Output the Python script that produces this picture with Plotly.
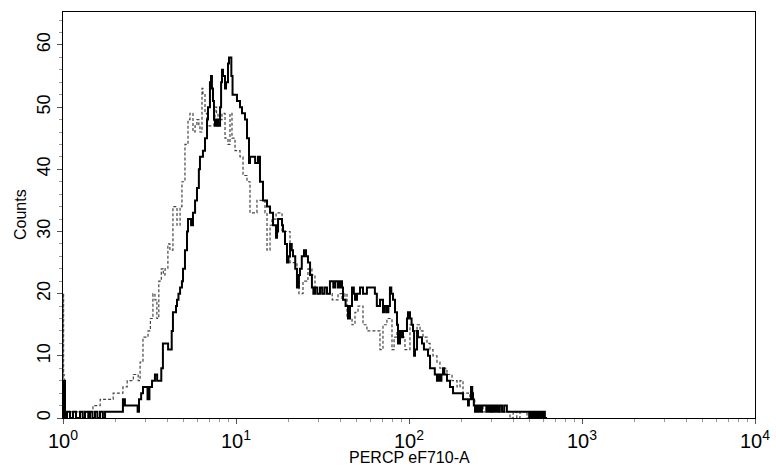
import plotly.graph_objects as go

# ---- data (x = PERCP eF710-A intensity, y = counts) ----
solid_x = [1.0, 1.002, 1.027, 1.055, 1.098, 1.142, 1.189, 1.254, 1.30, 1.34,
           1.40, 1.432, 1.48, 1.531, 1.58, 1.636, 1.70, 1.75, 2.22, 2.28,
           2.70, 2.75, 2.83, 2.90, 3.08, 3.16, 3.27, 3.40, 3.50, 3.70,
           3.78, 3.95, 4.05, 4.25, 4.32, 4.50, 4.56, 4.65, 4.75, 4.87,
           4.94, 5.07, 5.21, 5.28, 5.50, 5.64, 5.80, 5.95, 6.10, 6.19,
           6.44, 6.62, 6.80, 6.89, 7.07, 7.17, 7.26, 7.36, 7.46, 7.56,
           7.72, 7.87, 8.09, 8.20, 8.30, 8.41, 8.64, 8.76, 8.99, 9.11,
           9.40, 9.55, 9.87, 10.13, 10.55, 10.83, 11.27, 11.58, 11.89, 12.05,
           12.9, 13.4, 13.76, 14.32, 15.11, 15.73, 16.37, 17.04, 17.27, 17.5,
           18.45, 18.70, 19.2, 19.71, 20.1, 20.52, 21.0, 21.36, 22.0, 22.51,
           23.1, 23.43, 24.0, 24.72, 25.4, 26.06, 26.8, 27.47, 28.0, 28.61,
           29.5, 30.6, 31.5, 32.5, 33.58, 34.91, 36.5, 37.5, 38.86, 39.93,
           41.0, 41.55, 43.0, 44.41, 45.6, 46.84, 48.0, 48.74, 50.06, 52.1,
           54.21, 57.12, 63.5, 65.17, 67.97, 70.72, 72.5, 74.54, 76.0, 77.58,
           79.0, 80.84, 83.0, 85.22, 86.36, 88.69, 91.07, 92.29, 97.34, 98.64,
           101.3, 103.5, 105.5, 107.0, 108.3, 111.3, 112.7, 118.9, 122.0, 128.8,
           132.3, 141.0, 145.1, 148.0, 151.0, 154.0, 157.2, 160.0, 165.8, 172.6,
           179.7, 205.3, 219.4, 222.0, 228.3, 232.0, 234.4, 237.0, 240.7, 245.0,
           250.6, 255.0, 260.0, 264.0, 280.0, 285.0, 290.0, 294.0, 300.0, 305.0,
           310.0, 318.0, 326.0, 335.0, 345.0, 355.0, 368.0, 495.0, 505.0, 515.0,
           525.0, 535.0, 549.5, 560.0, 572.0, 583.0, 595.0, 610.0, 628.0]
solid_y = [0, 6, 0, 1, 0, 1, 0, 1, 0, 1,
           0, 1, 0, 1, 0, 1, 0, 1, 3, 2,
           1, 3, 4, 5, 3, 5, 6, 7, 6, 8,
           12, 12, 11, 14, 17, 18, 19, 20, 21, 22,
           24, 27, 30, 32, 31, 33, 35, 37, 40, 42,
           43, 45, 48, 50, 54, 55, 53, 51, 48, 47,
           48, 47, 50, 54, 56, 55, 53, 54, 57, 58,
           55, 52, 52, 51, 50, 49, 48, 45, 41, 42,
           41, 42, 38, 35, 34, 33, 31, 29, 30, 32,
           31, 30, 28, 25, 26, 28, 27, 26, 24, 21,
           23, 24, 26, 27, 26, 25, 23, 21, 20, 21,
           20, 21, 20, 21, 20, 22, 21, 22, 21, 22,
           21, 19, 18, 16, 18, 21, 20, 19, 20, 21,
           20, 21, 20, 18, 19, 17, 18, 17, 18, 21,
           20, 19, 17, 15, 12, 14, 13, 14, 16, 17,
           16, 15, 14, 10, 11, 14, 13, 12, 11, 10,
           8, 7, 6, 7, 6, 7, 8, 7, 6, 5,
           4, 3, 2, 3, 5, 4, 3, 2, 1, 2,
           1, 2, 1, 2, 1, 2, 1, 2, 1, 2,
           1, 2, 1, 2, 1, 2, 1, 0, 1, 0,
           1, 0, 1, 0, 1, 0, 1, 0, 0]

dashed_x = [1.0, 1.002, 1.008, 1.015, 1.49, 1.64, 1.82, 1.95, 2.22, 2.35,
            2.55, 2.72, 2.79, 2.90, 3.10, 3.20, 3.31, 3.40, 3.49, 3.58,
            3.70, 3.80, 3.89, 4.04, 4.15, 4.32, 4.56, 4.75, 4.87, 5.07,
            5.28, 5.42, 5.64, 5.80, 5.95, 6.10, 6.19, 6.36, 6.44, 6.62,
            6.80, 7.45, 7.56, 7.72, 7.87, 8.09, 8.30, 8.64, 8.99, 9.23,
            9.48, 9.87, 10.55, 10.98, 11.58, 12.05, 13.22, 14.71, 15.11, 15.73,
            16.15, 17.04, 18.45, 20.52, 22.51, 23.12, 24.39, 26.06, 27.47, 28.61,
            36.0, 38.86, 41.01, 42.66, 43.82, 46.84, 48.74, 50.74, 54.21, 57.12,
            67.97, 70.72, 74.54, 79.74, 82.0, 85.22, 88.69, 94.78, 101.3, 105.0,
            111.3, 115.8, 120.5, 127.1, 132.3, 137.6, 145.1, 151.0, 165.8, 177.3,
            189.5, 197.2, 205.3, 225.0, 240.0, 268.0, 280.0, 294.0, 310.0, 330.0,
            383.6, 400.0, 420.0, 438.0, 481.0, 500.0]
dashed_y = [0, 20, 7, 1, 2, 3, 3, 4, 5, 6,
            7, 6, 9, 13, 14, 16, 20, 19, 16, 22,
            24, 23, 24, 28, 27, 34, 31, 34, 38, 44,
            48, 49, 46, 47, 48, 47, 46, 53, 52, 49,
            47, 48, 50, 49, 47, 48, 49, 45, 44, 49,
            45, 43, 42, 39, 38, 33, 35, 33, 27, 31,
            32, 33, 30, 25, 23, 20, 22, 24, 23, 20,
            19, 20, 19, 20, 16, 15, 17, 18, 15, 14,
            11, 15, 16, 11, 13, 14, 13, 11, 15, 14,
            15, 14, 13, 12, 11, 10, 9, 8, 7, 6,
            5, 6, 4, 3, 2, 1, 2, 1, 2, 1,
            0, 1, 0, 1, 0, 0]

x_tick_vals = [1, 10, 100, 1000, 10000]
x_tick_text = ["10<sup>0</sup>", "10<sup>1</sup>", "10<sup>2</sup>",
               "10<sup>3</sup>", "10<sup>4</sup>"]
y_tick_vals = [0, 10, 20, 30, 40, 50, 60]
x_title = "PERCP eF710-A"
y_title = "Counts"

x_minor = [m * d for d in (1, 10, 100, 1000) for m in range(2, 10)]

FONT = "Liberation Sans, Arial, Helvetica, sans-serif"

fig = go.Figure()
fig.add_trace(go.Scatter(
    x=dashed_x, y=dashed_y, mode="lines", line_shape="hv",
    line=dict(color="#444444", width=1.2, dash="3px,2px"),
    showlegend=False, hoverinfo="skip"))
fig.add_trace(go.Scatter(
    x=solid_x, y=solid_y, mode="lines", line_shape="hv",
    line=dict(color="#000000", width=2),
    showlegend=False, hoverinfo="skip"))

fig.update_layout(
    width=776, height=475,
    margin=dict(l=63, r=21, t=12, b=57, autoexpand=False),
    paper_bgcolor="white", plot_bgcolor="white",
    font=dict(family=FONT, color="black"),
    xaxis=dict(
        type="log", range=[0, 4], autorange=False, automargin=False,
        showline=True, linecolor="black", linewidth=1, mirror=True,
        showgrid=False, zeroline=False,
        tickmode="array", tickvals=x_tick_vals, ticktext=x_tick_text,
        ticks="outside", ticklen=5, tickcolor="#555555", tickwidth=1,
        tickfont=dict(size=20, family=FONT),
        minor=dict(tickmode="array", tickvals=x_minor, ticks="outside",
                   ticklen=3, tickcolor="#999999", showgrid=False),
    ),
    yaxis=dict(
        range=[0, 65.3], autorange=False, automargin=False,
        showline=True, linecolor="black", linewidth=1, mirror=True,
        showgrid=False, zeroline=False,
        tickmode="array", tickvals=y_tick_vals, tickangle=-90,
        ticks="outside", ticklen=5, tickcolor="#555555", tickwidth=1,
        tickfont=dict(size=18, family=FONT),
        minor=dict(dtick=2, tick0=0, ticks="outside", ticklen=3,
                   tickcolor="#999999", showgrid=False),
    ),
    annotations=[
        dict(text=x_title, xref="paper", yref="paper", x=0.5, y=0,
             xanchor="center", yanchor="middle", yshift=-39, showarrow=False,
             font=dict(size=16, family=FONT)),
        dict(text=y_title, xref="paper", yref="paper", x=0, y=0.5,
             xanchor="center", yanchor="middle", xshift=-43, textangle=-90,
             showarrow=False, font=dict(size=16, family=FONT)),
    ],
)

fig.write_html(
    "out.html",
    config={"displayModeBar": False},
    post_script="document.body.style.margin='0';document.body.style.overflow='hidden';",
)
